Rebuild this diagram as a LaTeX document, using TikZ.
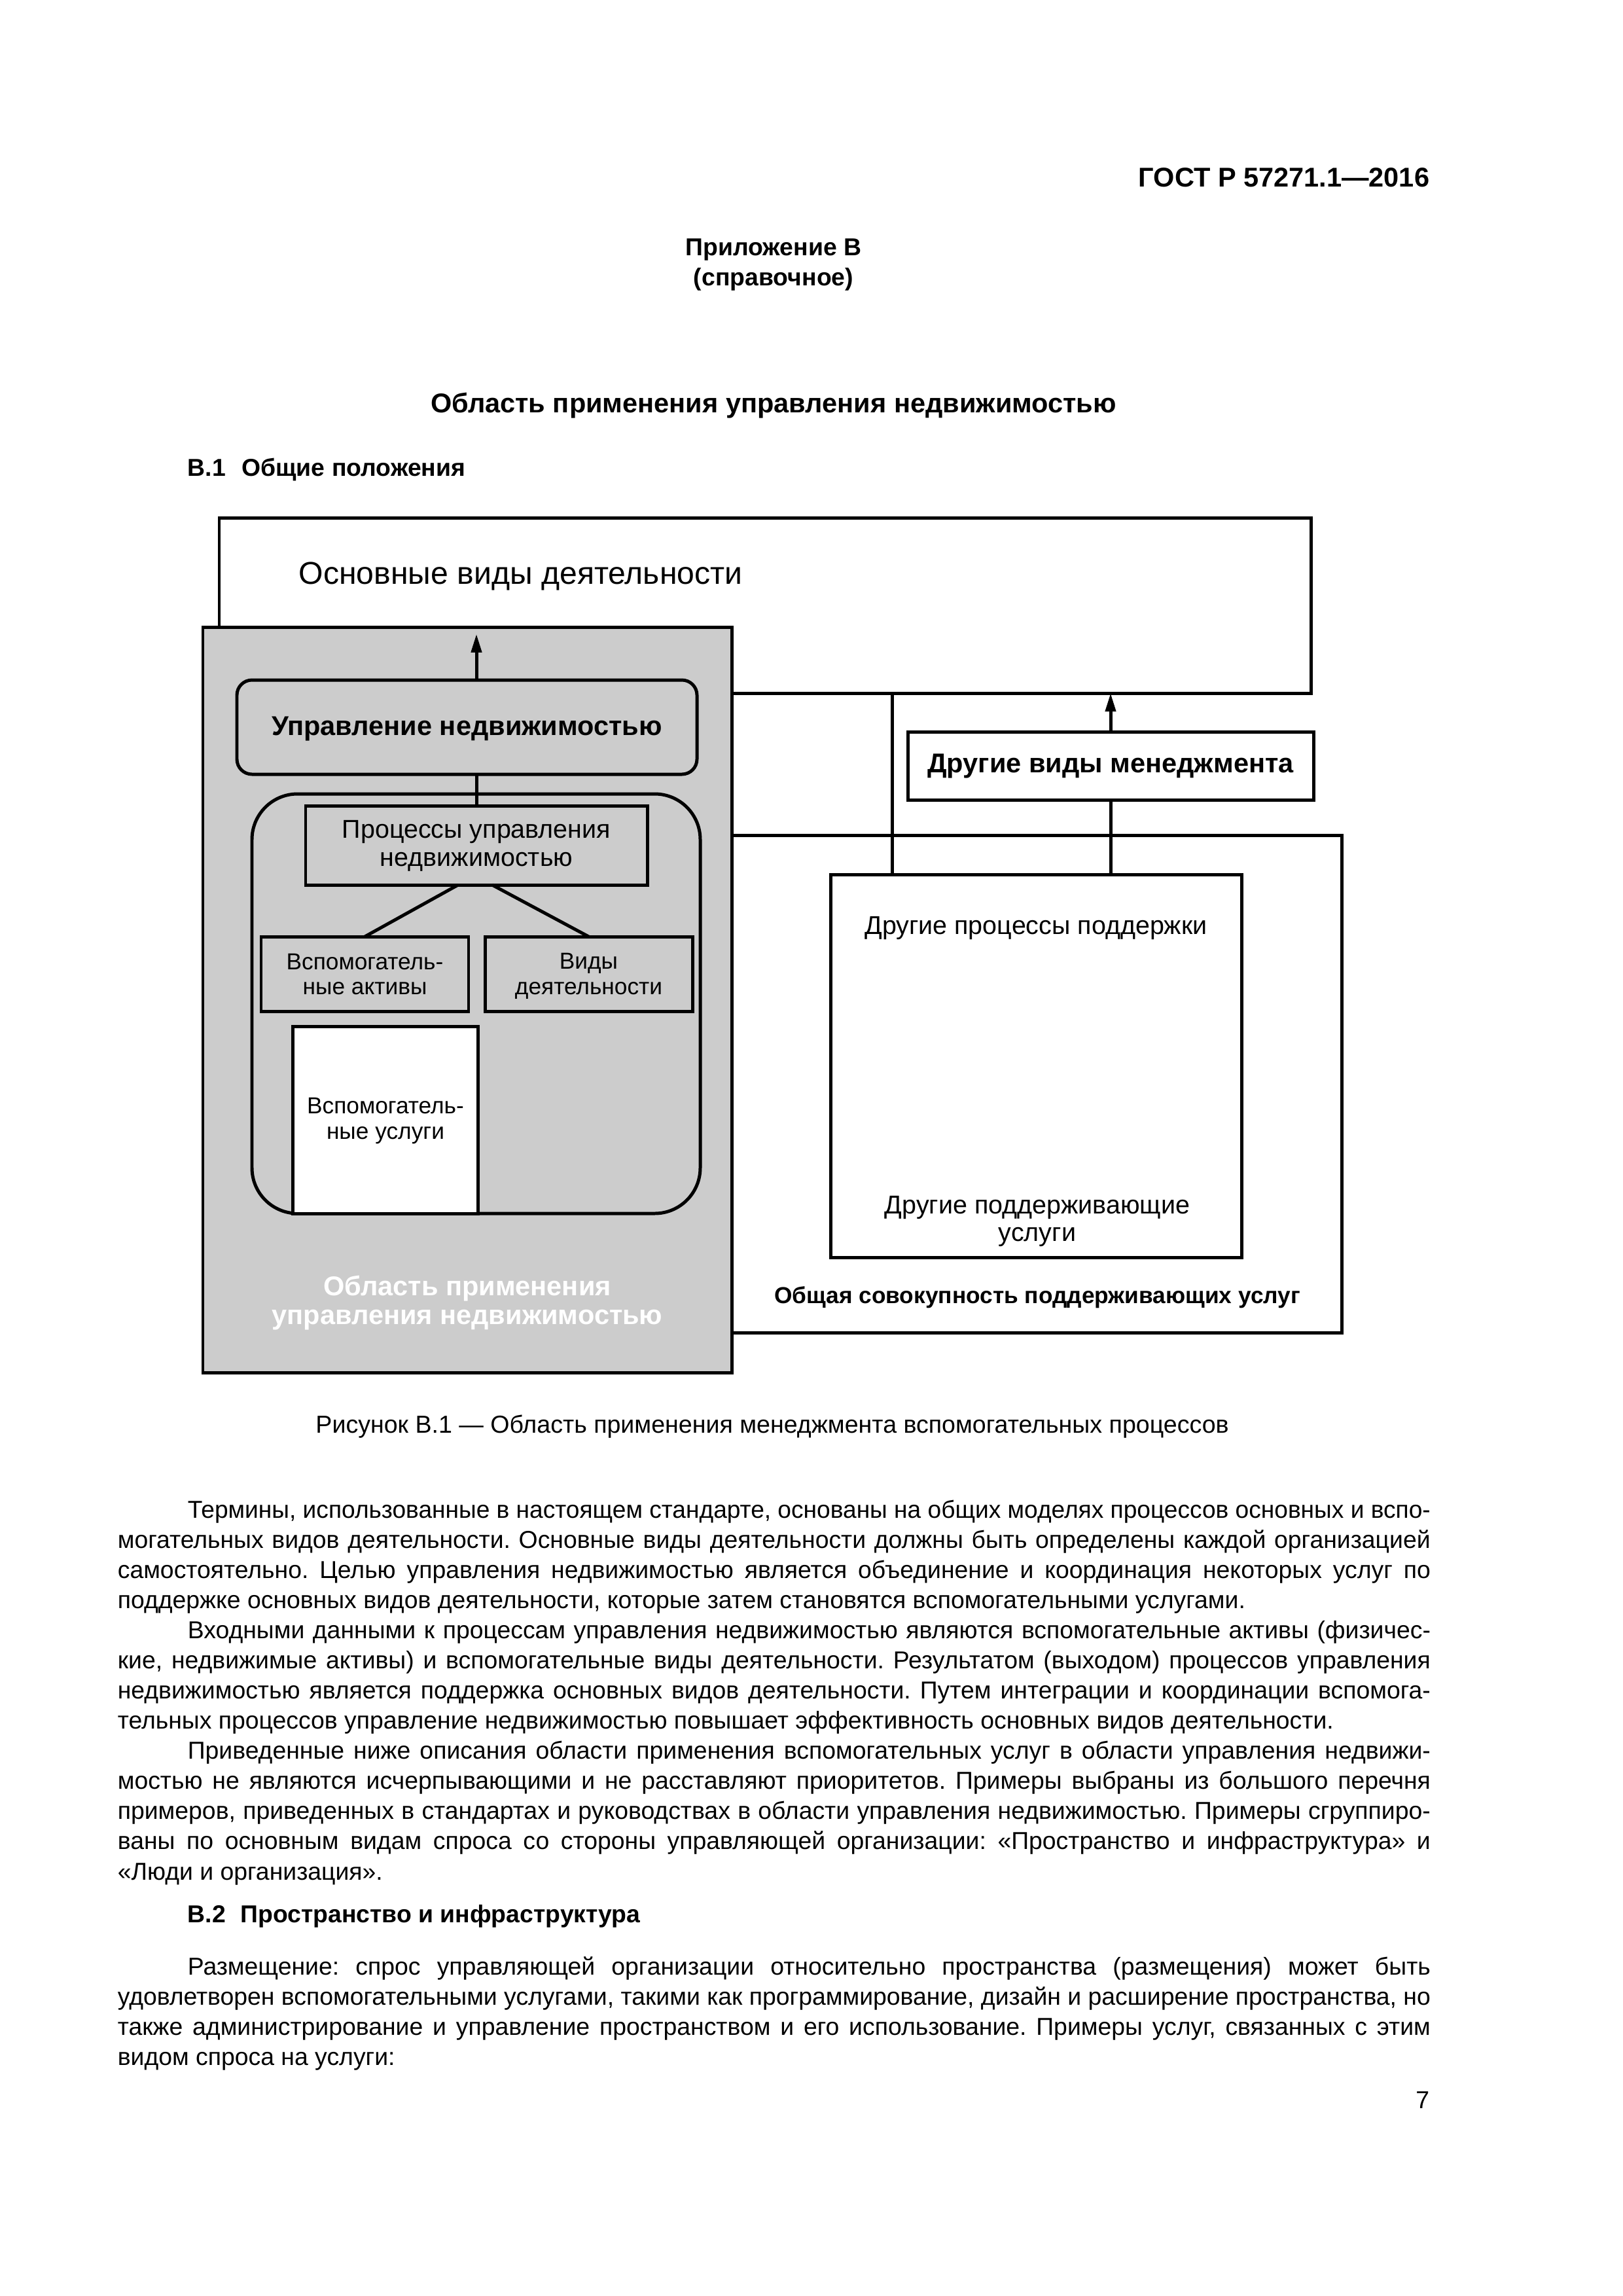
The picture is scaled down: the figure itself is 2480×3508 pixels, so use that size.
\documentclass[tikz,border=0pt]{standalone}
\usepackage{fontspec}
\setmainfont{Liberation Sans}
\usepackage{graphicx}
\usetikzlibrary{fit,arrows.meta}
\newlength\px \setlength\px{0.0846667mm}
\newlength\jlw
\newcommand\jline[2]{\settowidth\jlw{#2}\ifdim\jlw>#1\relax\resizebox{#1}{\height}{#2}\else\makebox[#1][s]{#2}\fi}
\newcommand\fsz[1]{\fontsize{#1}{#1}\selectfont}
\definecolor{gbg}{RGB}{204,204,204}
\frenchspacing
\begin{document}
\frenchspacing
\begin{tikzpicture}[x=0.0846667mm,y=-0.0846667mm,
  box/.style={draw=black,line width=1.2pt,inner sep=0pt,outer sep=0pt},
  con/.style={draw=black,line width=1.2pt},
  arr/.style={con,-{Triangle[width=3.8pt,length=6.8pt]}},
  lbl/.style={inner sep=0pt,anchor=base},
  rg/.style={lbl,font=\fsz{9.5}},
  sm/.style={lbl,font=\fsz{8.5}},
  bd/.style={lbl,font=\bfseries\fsz{10}},
  body/.style={inner sep=0pt,anchor=base west,font=\fsz{9}\frenchspacing}]
\useasboundingbox (0,0) rectangle (2480,3508);
\fill[white] (0,0) rectangle (2480,3508);

% page heading
\node[inner sep=0pt,anchor=base east,font=\bfseries\fsz{10}] (gost) at (2185,285) {ГОСТ Р 57271.1—2016};
\node[lbl,font=\bfseries\fsz{9}] (app) at (1182,390) {Приложение В};
\node[lbl,font=\bfseries\fsz{9}] (appt) at (1182,436) {(справочное)};
\node[lbl,font=\bfseries\fsz{10}] (title) at (1182,630) {Область применения управления недвижимостью};
\node[inner sep=0pt,anchor=base west,font=\bfseries\fsz{9}] (sec1) at (286,727) {В.1\hspace{0.65em}Общие положения};

% diagram boxes
\node[box,fit={(335,791) (2003,1059)}] (main) {};
\node[box,fit={(1118,1276) (2050,2036)}] (total) {};
\node[box,fill=gbg,fit={(310,958) (1118,2097)}] (scope) {};
\node[box,rounded corners=1.95mm,fit={(362,1039) (1065,1183)}] (rem) {};
\node[box,rounded corners=5.9mm,fit={(385,1213) (1070,1854)}] (cont) {};
\node[box,fit={(467,1231) (989,1352)}] (proc) {};
\node[box,fit={(399,1431) (716,1545)}] (assets) {};
\node[box,fit={(741,1431) (1058,1545)}] (acts) {};
\node[box,fill=white,fit={(447.5,1568) (730,1854)}] (serv) {};
\node[box,fill=white,fit={(1387,1118) (2007,1222)}] (mgmt) {};
\node[box,fill=white,fit={(1269,1336) (1897,1921)}] (other) {};

% connectors
\draw[arr,shorten >=0.9mm] (proc.north |- rem.north) -- (proc.north |- scope.north);
\draw[con] (proc.north |- rem.south) -- (proc.north);
\draw[con] (proc.south) ++(-28,0) -- (assets.north);
\draw[con] (proc.south) ++(24,0) -- (acts.north);
\draw[arr] (mgmt.north) -- (mgmt.north |- main.south);
\draw[con] (mgmt.south) -- (mgmt.south |- other.north);
\coordinate (drop) at (1363,1059);
\draw[con] (drop) -- (drop |- other.north);

% diagram labels
\node[inner sep=0pt,anchor=base west,font=\fsz{11.6}] (mainlbl) at (456,892) {Основные виды деятельности};
\node[bd] (remlbl) at (713.5,1123) {Управление недвижимостью};
\node[rg] (proc1) at (728,1280) {Процессы управления};
\node[rg] (proc2) at (728,1323.6) {недвижимостью};
\node[sm] (as1) at (557.5,1481) {Вспомогатель-};
\node[sm] (as2) at (557.5,1519) {ные активы};
\node[sm] (ac1) at (899.5,1480) {Виды};
\node[sm] (ac2) at (899.5,1519) {деятельности};
\node[sm] (sv1) at (589,1701) {Вспомогатель-};
\node[sm] (sv2) at (589,1740) {ные услуги};
\node[bd,text=white] (sc1) at (714,1979) {Область применения};
\node[bd,text=white] (sc2) at (714,2023.5) {управления недвижимостью};
\node[bd] (mg) at (1697,1180) {Другие виды менеджмента};
\node[rg] (ot1) at (1583,1427.6) {Другие процессы поддержки};
\node[rg] (ot2) at (1585,1854) {Другие поддерживающие};
\node[rg] (ot3) at (1585,1896.5) {услуги};
\node[lbl,font=\bfseries\fsz{8.5}] (tot) at (1585,1991) {Общая совокупность поддерживающих услуг};

% caption
\node[lbl,font=\fsz{9.05}] (cap) at (1180,2189) {Рисунок В.1 — Область применения менеджмента вспомогательных процессов};

% body text
\node[body] (l1) at (286,2319) {\jline{1899\px}{Термины, использованные в настоящем стандарте, основаны на общих моделях процессов основных и вспо-}};
\node[body] (l2) at (179,2365.1) {\jline{2006\px}{могательных видов деятельности. Основные виды деятельности должны быть определены каждой организацией}};
\node[body] (l3) at (179,2411.2) {\jline{2006\px}{самостоятельно. Целью управления недвижимостью является объединение и координация некоторых услуг по}};
\node[body] (l4) at (179,2457.2) {поддержке основных видов деятельности, которые затем становятся вспомогательными услугами.};
\node[body] (l5) at (286,2503.3) {\jline{1899\px}{Входными данными к процессам управления недвижимостью являются вспомогательные активы (физичес-}};
\node[body] (l6) at (179,2549.4) {\jline{2006\px}{кие, недвижимые активы) и вспомогательные виды деятельности. Результатом (выходом) процессов управления}};
\node[body] (l7) at (179,2595.5) {\jline{2006\px}{недвижимостью является поддержка основных видов деятельности. Путем интеграции и координации вспомога-}};
\node[body] (l8) at (179,2641.6) {тельных процессов управление недвижимостью повышает эффективность основных видов деятельности.};
\node[body] (l9) at (286,2687.6) {\jline{1899\px}{Приведенные ниже описания области применения вспомогательных услуг в области управления недвижи-}};
\node[body] (l10) at (179,2733.7) {\jline{2006\px}{мостью не являются исчерпывающими и не расставляют приоритетов. Примеры выбраны из большого перечня}};
\node[body] (l11) at (179,2779.8) {\jline{2006\px}{примеров, приведенных в стандартах и руководствах в области управления недвижимостью. Примеры сгруппиро-}};
\node[body] (l12) at (179,2825.9) {\jline{2006\px}{ваны по основным видам спроса со стороны управляющей организации: «Пространство и инфраструктура» и}};
\node[body] (l13) at (179,2872) {«Люди и организация».};
\node[inner sep=0pt,anchor=base west,font=\bfseries\fsz{9}] (sec2) at (286,2937) {В.2\hspace{0.6em}Пространство и инфраструктура};
\node[body] (l14) at (286,3017) {\jline{1899\px}{Размещение: спрос управляющей организации относительно пространства (размещения) может быть}};
\node[body] (l15) at (179,3063) {\jline{2006\px}{удовлетворен вспомогательными услугами, такими как программирование, дизайн и расширение пространства, но}};
\node[body] (l16) at (179,3109) {\jline{2006\px}{также администрирование и управление пространством и его использование. Примеры услуг, связанных с этим}};
\node[body] (l17) at (179,3155) {видом спроса на услуги:};
\node[inner sep=0pt,anchor=base east,font=\fsz{9}] (pnum) at (2185,3221) {7};
\end{tikzpicture}
\end{document}
